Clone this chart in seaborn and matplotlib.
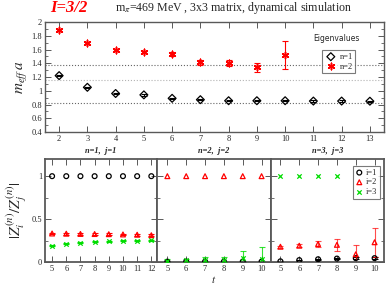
import matplotlib
matplotlib.use("Agg")
import matplotlib.pyplot as plt
import seaborn as sns
from matplotlib.ticker import MultipleLocator

# effective masses of the two lowest eigenvalues
t_n1 = [2, 3, 4, 5, 6, 7, 8, 9, 10, 11, 12, 13]
meff_n1 = [1.22, 1.05, 0.96, 0.94, 0.89, 0.87, 0.855, 0.855, 0.855, 0.85, 0.85, 0.848]
meff_n1_err = [0.01, 0.01, 0.01, 0.01, 0.01, 0.01, 0.01, 0.01, 0.01, 0.01, 0.01, 0.01]
t_n2 = [2, 3, 4, 5, 6, 7, 8, 9, 10]
meff_n2 = [1.88, 1.69, 1.595, 1.565, 1.535, 1.415, 1.40, 1.34, 1.52]
meff_n2_err = [0.015, 0.015, 0.015, 0.02, 0.025, 0.035, 0.045, 0.065, 0.2]
ref_lines = [0.825, 1.15, 1.37]

# overlap ratios |Z_i/Z_j|, one panel per eigenstate n (j = n)
t_p1 = [5, 6, 7, 8, 9, 10, 11, 12]
p1_i1 = [1, 1, 1, 1, 1, 1, 1, 1]
p1_i2 = [0.332, 0.33, 0.327, 0.326, 0.324, 0.321, 0.318, 0.312]
p1_i2_err = [0.01, 0.01, 0.01, 0.01, 0.01, 0.01, 0.01, 0.01]
p1_i3 = [0.19, 0.21, 0.225, 0.235, 0.24, 0.245, 0.25, 0.256]
p1_i3_err = [0.006, 0.006, 0.006, 0.006, 0.006, 0.006, 0.006, 0.006]

t_p2 = [5, 6, 7, 8, 9, 10]
p2_i1 = [0.004, 0.005, 0.005, 0.005, 0.005, 0.005]
p2_i1_err = [0.005, 0.005, 0.005, 0.005, 0.005, 0.005]
p2_i2 = [1, 1, 1, 1, 1, 1]
p2_i3 = [0.015, 0.02, 0.025, 0.025, 0.05, 0.04]
p2_i3_err = [0.015, 0.02, 0.03, 0.03, 0.08, 0.13]

t_p3 = [5, 6, 7, 8, 9, 10]
p3_i1 = [0.008, 0.022, 0.032, 0.04, 0.045, 0.045]
p3_i1_err = [0.005, 0.006, 0.007, 0.008, 0.01, 0.01]
p3_i2 = [0.178, 0.19, 0.21, 0.2, 0.09, 0.23]
p3_i2_err = [0.01, 0.015, 0.03, 0.07, 0.11, 0.17]
t_p3_i3 = [5, 6, 7, 8]
p3_i3 = [1, 1, 1, 1]

panel_titles = ["n=1,  j=1", "n=2,  j=2", "n=3,  j=3"]

RED = "#ff0000"
GREEN = "#00dd00"
FRAME = "0.35"

sns.set_style("ticks")
plt.rcParams["font.family"] = ["Liberation Serif", "DejaVu Serif"]
plt.rcParams["mathtext.fontset"] = "stix"

fig = plt.figure(figsize=(3.86, 2.84), dpi=100)
W, H = 386, 284


def px_axes(x0, y0, x1, y1):
    return fig.add_axes([x0 / W, 1 - y1 / H, (x1 - x0) / W, (y1 - y0) / H])


def style_axes(ax, lw=1.0):
    for s in ax.spines.values():
        s.set_color(FRAME)
        s.set_linewidth(lw)
    ax.tick_params(which="both", direction="in", top=True, right=True,
                   color=FRAME, labelsize=6, pad=2)
    ax.tick_params(which="major", length=4, width=0.7)
    ax.tick_params(which="minor", length=2, width=0.6)


def open_points(ax, x, y, marker, color, size, label=None):
    sns.scatterplot(x=x, y=y, marker=marker, color=color, facecolor="none",
                    edgecolor=color, linewidth=0.9, s=size, ax=ax, label=label,
                    zorder=3)


def bars(ax, x, y, err, color, alpha=1.0):
    ax.errorbar(x, y, yerr=err, fmt="none", ecolor=color, elinewidth=0.8,
                capsize=2.5, capthick=0.8, alpha=alpha, zorder=2)


# ---- top panel: effective masses
ax = px_axes(45, 22, 384, 132)
for v, c in zip(ref_lines, ["0.4", "0.7", "0.4"]):
    ax.axhline(v, color=c, ls=":", lw=0.8, zorder=1)
bars(ax, t_n1, meff_n1, meff_n1_err, "black")
open_points(ax, t_n1, meff_n1, "D", "black", 16, label="n=1")
bars(ax, t_n2, meff_n2, meff_n2_err, RED)
sns.scatterplot(x=t_n2, y=meff_n2, marker=(6, 2, 0), color=RED, s=22,
                linewidth=1.1, ax=ax, label="n=2", zorder=3)
ax.set_xlim(1.5, 13.5)
ax.set_ylim(0.4, 2.0)
ax.xaxis.set_major_locator(MultipleLocator(1))
ax.yaxis.set_major_locator(MultipleLocator(0.2))
ax.yaxis.set_minor_locator(MultipleLocator(0.1))
ax.set_yticklabels([f"{v:g}" for v in ax.get_yticks()])
style_axes(ax)
ax.set_ylabel(r"$m_{eff}\,a$", fontsize=11, labelpad=2)
leg = ax.legend(loc="upper left", bbox_to_anchor=(0.805, 0.78), fontsize=6,
                frameon=True, fancybox=False, edgecolor=FRAME, handletextpad=0.3,
                borderpad=0.3, labelspacing=0.2, handlelength=1.5)
leg.get_frame().set_linewidth(0.8)
ax.text(0.86, 0.85, "Eigenvalues", transform=ax.transAxes, ha="center",
        va="center", fontsize=5.5, family="DejaVu Sans")

fig.text(50 / W, 1 - 8 / H, "I=3/2", color=RED, fontsize=12, fontweight="bold",
         style="italic", va="center")
fig.text(115 / W, 1 - 8 / H, r"m$_{\pi}$=469 MeV , 3x3 matrix, dynamical simulation",
         fontsize=8.6, va="center")

# ---- bottom panels: overlap ratios
edges = [45, 157, 271, 384]
xlims = [(4.5, 12.4), (4.45, 10.5), (4.5, 10.5)]
axes = []
for k in range(3):
    a = px_axes(edges[k], 159, edges[k + 1], 262)
    a.set_xlim(*xlims[k])
    a.set_ylim(0, 1.2)
    a.xaxis.set_major_locator(MultipleLocator(1))
    a.yaxis.set_major_locator(MultipleLocator(0.5))
    a.yaxis.set_minor_locator(MultipleLocator(0.25))
    style_axes(a, lw=1.3)
    if k > 0:
        a.tick_params(labelleft=False)
    a.set_title(panel_titles[k], fontsize=6, fontweight="bold", style="italic", pad=4)
    axes.append(a)

a1, a2, a3 = axes
open_points(a1, t_p1, p1_i1, "o", "black", 12)
bars(a1, t_p1, p1_i2, p1_i2_err, RED)
open_points(a1, t_p1, p1_i2, "^", RED, 12)
bars(a1, t_p1, p1_i3, p1_i3_err, GREEN)
sns.scatterplot(x=t_p1, y=p1_i3, marker="x", color=GREEN, s=10, linewidth=0.9,
                ax=a1, zorder=3)

bars(a2, t_p2, p2_i1, p2_i1_err, "black")
open_points(a2, t_p2, p2_i1, "o", "black", 12)
open_points(a2, t_p2, p2_i2, "^", RED, 12)
bars(a2, t_p2, p2_i3, p2_i3_err, GREEN, alpha=0.8)
sns.scatterplot(x=t_p2, y=p2_i3, marker="x", color=GREEN, s=10, linewidth=0.9,
                ax=a2, zorder=3)

bars(a3, t_p3, p3_i1, p3_i1_err, "black")
open_points(a3, t_p3, p3_i1, "o", "black", 12, label="i=1")
bars(a3, t_p3, p3_i2, p3_i2_err, RED, alpha=0.7)
open_points(a3, t_p3, p3_i2, "^", RED, 12, label="i=2")
sns.scatterplot(x=t_p3_i3, y=p3_i3, marker="x", color=GREEN, s=10, linewidth=0.9,
                ax=a3, label="i=3", zorder=3)
leg = a3.legend(loc="upper right", bbox_to_anchor=(1.0, 0.97), fontsize=6,
                frameon=True, fancybox=False, edgecolor=FRAME, handletextpad=0.3,
                borderpad=0.3, labelspacing=0.2, handlelength=1.0)
leg.get_frame().set_linewidth(0.8)

a1.set_ylabel(r"$|Z_i^{(n)}/Z_j^{(n)}|$", fontsize=11, labelpad=2)
a1.set_yticks([0, 0.5, 1])
a1.set_yticklabels(["0", "0.5", "1"])
a2.set_xlabel(r"$t$", fontsize=8, labelpad=1)

fig.savefig("out.png", dpi=100)
